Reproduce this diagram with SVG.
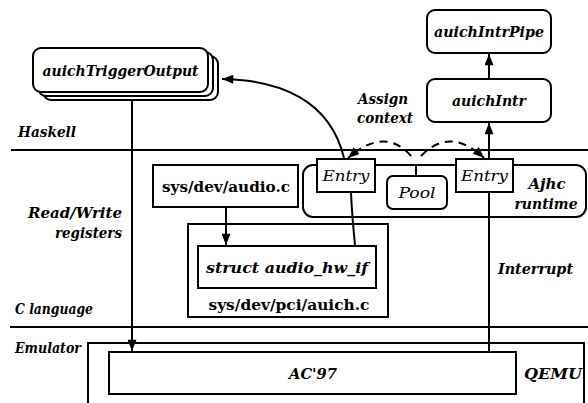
<svg xmlns="http://www.w3.org/2000/svg" width="588" height="403" viewBox="0 0 588 403" font-family="DejaVu Serif, serif">
  <style>
    .box { fill: #fff; stroke: #000; stroke-width: 2; }
    .frame { fill: none; stroke: #000; stroke-width: 2; }
    .line { fill: none; stroke: #000; stroke-width: 2; }
    .dash { fill: none; stroke: #000; stroke-width: 2; stroke-dasharray: 8 6; }
    .sep { fill: none; stroke: #000; stroke-width: 2; }
    text { font-family: "DejaVu Serif", "Liberation Serif", serif; font-size: 15.5px; fill: #000; }
    .bi { font-weight: bold; font-style: italic; }
    .b { font-weight: bold; }
    .i { font-style: italic; }
    .c { text-anchor: middle; }
    .r { text-anchor: end; }
  </style>
  <defs>
    <marker id="arrow" viewBox="0 0 10 8" refX="10" refY="4" markerWidth="12" markerHeight="9" markerUnits="userSpaceOnUse" orient="auto">
      <path d="M0,0 L10,4 L0,8 Z" fill="#000"/>
    </marker>
  </defs>

  <!-- layer separators -->
  <g id="layers">
    <line class="sep" x1="11" y1="150" x2="588" y2="150"/>
    <line class="sep" x1="10" y1="327" x2="588" y2="327"/>
    <text class="bi" x="18" y="137" textLength="58" lengthAdjust="spacingAndGlyphs">Haskell</text>
    <text class="bi" x="15" y="314" textLength="78" lengthAdjust="spacingAndGlyphs">C language</text>
    <text class="bi" x="15" y="353" textLength="66" lengthAdjust="spacingAndGlyphs">Emulator</text>
  </g>

  <!-- QEMU container -->
  <g id="qemu">
    <path class="frame" d="M88,404 V343 H584 V404"/>
    <text class="bi" x="524" y="379" textLength="58" lengthAdjust="spacingAndGlyphs">QEMU</text>
  </g>

  <g id="auichTriggerOutput">
    <rect class="box" x="43" y="56" width="175" height="44" rx="8"/>
    <rect class="box" x="38" y="52" width="175" height="44" rx="8"/>
    <rect class="box" x="33" y="48" width="175" height="44" rx="8"/>
    <text class="bi c" x="120.5" y="76" textLength="156" lengthAdjust="spacingAndGlyphs">auichTriggerOutput</text>
  </g>

  <g id="auichIntrPipe">
    <rect class="box" x="427" y="10" width="124" height="43" rx="8"/>
    <text class="bi c" x="489" y="37" textLength="110" lengthAdjust="spacingAndGlyphs">auichIntrPipe</text>
  </g>

  <g id="auichIntr">
    <rect class="box" x="427" y="79" width="124" height="43" rx="8"/>
    <text class="bi c" x="489" y="106" textLength="74" lengthAdjust="spacingAndGlyphs">auichIntr</text>
  </g>

  <g id="assign-context">
    <text class="bi c" x="383" y="104" textLength="50" lengthAdjust="spacingAndGlyphs">Assign</text>
    <text class="bi c" x="385" y="123" textLength="56" lengthAdjust="spacingAndGlyphs">context</text>
  </g>

  <g id="ajhc-runtime">
    <rect class="frame" x="303" y="165" width="283" height="52" rx="10"/>
    <text class="bi c" x="547" y="189" textLength="37" lengthAdjust="spacingAndGlyphs">Ajhc</text>
    <text class="bi c" x="546" y="209" textLength="63" lengthAdjust="spacingAndGlyphs">runtime</text>
  </g>

  <g id="pool">
    <rect class="box" x="387" y="176" width="60" height="33" rx="6"/>
    <text class="i c" x="417" y="198" textLength="37" lengthAdjust="spacingAndGlyphs">Pool</text>
  </g>

  <g id="entry-left">
    <rect class="box" x="317" y="159" width="58" height="33"/>
    <text class="i c" x="346" y="181" textLength="47" lengthAdjust="spacingAndGlyphs">Entry</text>
  </g>

  <g id="entry-right">
    <rect class="box" x="456" y="159" width="57" height="33"/>
    <text class="i c" x="484.5" y="181" textLength="47" lengthAdjust="spacingAndGlyphs">Entry</text>
  </g>

  <g id="audio-c">
    <rect class="box" x="153" y="165" width="145" height="42"/>
    <text class="b c" x="226" y="192" textLength="128" lengthAdjust="spacingAndGlyphs">sys/dev/audio.c</text>
  </g>

  <g id="rw-registers">
    <text class="bi r" x="122" y="218" textLength="94" lengthAdjust="spacingAndGlyphs">Read/Write</text>
    <text class="bi r" x="122" y="238" textLength="67" lengthAdjust="spacingAndGlyphs">registers</text>
  </g>

  <g id="auich-c">
    <rect class="frame" x="188" y="224" width="200" height="93"/>
    <text class="b c" x="289" y="310" textLength="161" lengthAdjust="spacingAndGlyphs">sys/dev/pci/auich.c</text>
  </g>

  <g id="audio-hw-if">
    <rect class="box" x="198" y="246" width="178" height="42"/>
    <text class="bi c" x="287" y="273" textLength="162" lengthAdjust="spacingAndGlyphs">struct audio_hw_if</text>
  </g>

  <g id="interrupt">
    <text class="bi" x="498" y="274" textLength="75" lengthAdjust="spacingAndGlyphs">Interrupt</text>
  </g>

  <g id="ac97">
    <rect class="box" x="109" y="352" width="407" height="42"/>
    <text class="bi c" x="313" y="379" textLength="48" lengthAdjust="spacingAndGlyphs">AC'97</text>
  </g>

  <!-- connectors; lines stop at the Entry box edges they pass through -->
  <g id="connectors">
    <line class="line" x1="132" y1="100" x2="132" y2="351" marker-end="url(#arrow)"/>
    <line class="line" x1="226" y1="207" x2="226" y2="245" marker-end="url(#arrow)"/>
    <line class="line" x1="489" y1="351" x2="489" y2="192"/>
    <line class="line" x1="489" y1="159" x2="489" y2="123" marker-end="url(#arrow)"/>
    <line class="line" x1="489" y1="79" x2="489" y2="54" marker-end="url(#arrow)"/>
    <path class="line" d="M355,245 Q352,215 351,193"/>
    <path class="line" d="M344,158 C330,100 280,80 222,79" marker-end="url(#arrow)"/>
    <line class="line" x1="416" y1="166" x2="416" y2="176"/>
    <path class="dash" d="M411,156 Q385,126 348,158" marker-end="url(#arrow)"/>
    <path class="dash" d="M421,156 Q450,126 484,158" marker-end="url(#arrow)"/>
  </g>
</svg>
